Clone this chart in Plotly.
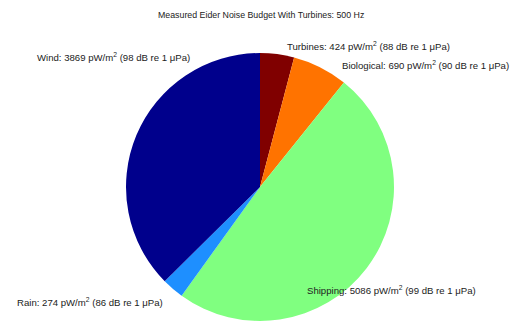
import plotly.graph_objects as go

W, H = 515, 322

categories = ["Turbines", "Biological", "Shipping", "Rain", "Wind"]
power_pw = [424, 690, 5086, 274, 3869]
level_db = [88, 90, 99, 86, 98]
colors = ["#800000", "#FF7300", "#80FF80", "#1E8FFF", "#00008C"]
title_text = "Measured Eider Noise Budget With Turbines: 500 Hz"

# label anchor positions in pixels (left edge, vertical middle)
label_px = {
    "Turbines": (285, 46),
    "Biological": (340, 65),
    "Shipping": (305, 290),
    "Rain": (15, 302),
    "Wind": (35, 57),
}

cx, cy, r = 260, 187, 134

fig = go.Figure(go.Pie(
    labels=categories,
    values=power_pw,
    marker=dict(colors=colors, line=dict(width=0)),
    sort=False,
    direction="clockwise",
    rotation=0,
    textinfo="none",
    hoverinfo="label+value",
    showlegend=False,
    domain=dict(x=[(cx - r) / W, (cx + r) / W],
                y=[(H - cy - r) / H, (H - cy + r) / H]),
))

annotations = []
for name, p, db in zip(categories, power_pw, level_db):
    x, y = label_px[name]
    annotations.append(dict(
        x=x / W, y=1 - y / H, xref="paper", yref="paper",
        xanchor="left", yanchor="middle", showarrow=False,
        text=f"{name}: {p} pW/m<sup>2</sup> ({db} dB re 1 μPa)",
        font=dict(family="Liberation Sans, Arial, sans-serif", size=9.6, color="#222222"),
    ))
annotations.append(dict(
    x=261 / W, y=1 - 15 / H, xref="paper", yref="paper",
    xanchor="center", yanchor="middle", showarrow=False,
    text=title_text,
    font=dict(family="Liberation Sans, Arial, sans-serif", size=8.8, color="#222222"),
))

fig.update_layout(
    width=W, height=H,
    margin=dict(l=0, r=0, t=0, b=0),
    paper_bgcolor="white", plot_bgcolor="white",
    annotations=annotations,
)

fig.write_html("out.html",
               config={"displayModeBar": False},
               post_script="document.body.style.margin='0';document.body.style.overflow='hidden';")
